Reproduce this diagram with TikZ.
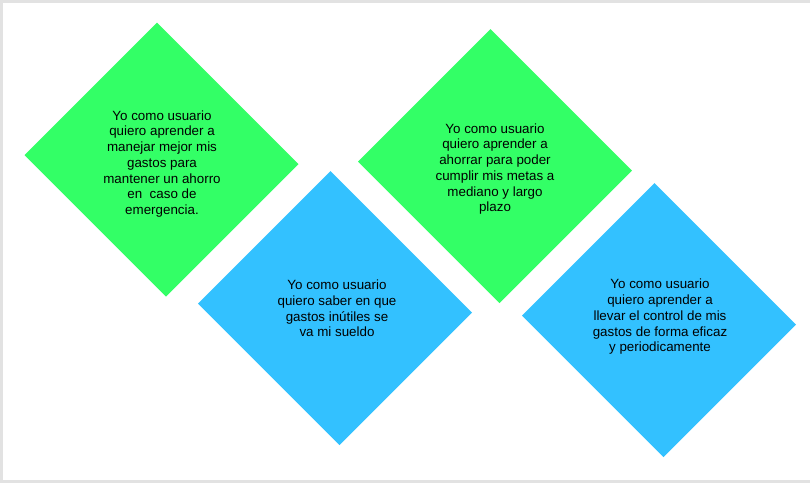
\documentclass[tikz,border=0pt]{standalone}
\usepackage{fontspec}
\setmainfont{Liberation Sans}
\definecolor{verde}{HTML}{33FF66}
\definecolor{celeste}{HTML}{33C1FF}
\definecolor{marco}{HTML}{E2E2E2}
\begin{document}
\begin{tikzpicture}[x=0.025cm, y=-0.025cm,
    historia/.style={align=center, font=\fontsize{9.5}{11.2}\selectfont, text=black}]
        \useasboundingbox (0,0) rectangle (810,483);
        % Frame
        \draw[marco, line width=2.5] (0,1) -- (810,1);
        \draw[marco, line width=2.5] (1,0) -- (1,483);
        \draw[marco, line width=2.5] (0,481.5) -- (810,481.5);

        % First story (green)
        \begin{scope}[shift={(161.5,159.5)}]
            \fill[verde] (-4.5,-137) -- (137,4.5) -- (4.5,137) -- (-137,-4.5) -- cycle;
            \node[historia] (ahorro) at (0.5,4.5) {Yo como usuario\\quiero aprender a\\manejar mejor mis\\gastos para\\mantener un ahorro\\en \ caso de\\emergencia.};
        \end{scope}

        % Second story (blue)
        \begin{scope}[shift={(335,308)}]
            \fill[celeste] (-4.5,-137) -- (137,4.5) -- (4.5,137) -- (-137,-4.5) -- cycle;
            \node[historia] (gastos) at (2,0.5) {Yo como usuario\\quiero saber en que\\gastos inútiles se\\va mi sueldo};
        \end{scope}

        % Third story (green)
        \begin{scope}[shift={(495,166)}]
            \fill[verde] (-4.5,-137) -- (137,4.5) -- (4.5,137) -- (-137,-4.5) -- cycle;
            \node[historia] (metas) at (0,3) {Yo como usuario\\quiero aprender a\\ahorrar para poder\\cumplir mis metas a\\mediano y largo\\plazo};
        \end{scope}

        % Fourth story (blue)
        \begin{scope}[shift={(659,320)}]
            \fill[celeste] (-4.5,-137) -- (137,4.5) -- (4.5,137) -- (-137,-4.5) -- cycle;
            \node[historia] (control) at (1,-3) {Yo como usuario\\quiero aprender a\\llevar el control de mis\\gastos de forma eficaz\\y periodicamente};
        \end{scope}
    \end{tikzpicture}
\end{document}
